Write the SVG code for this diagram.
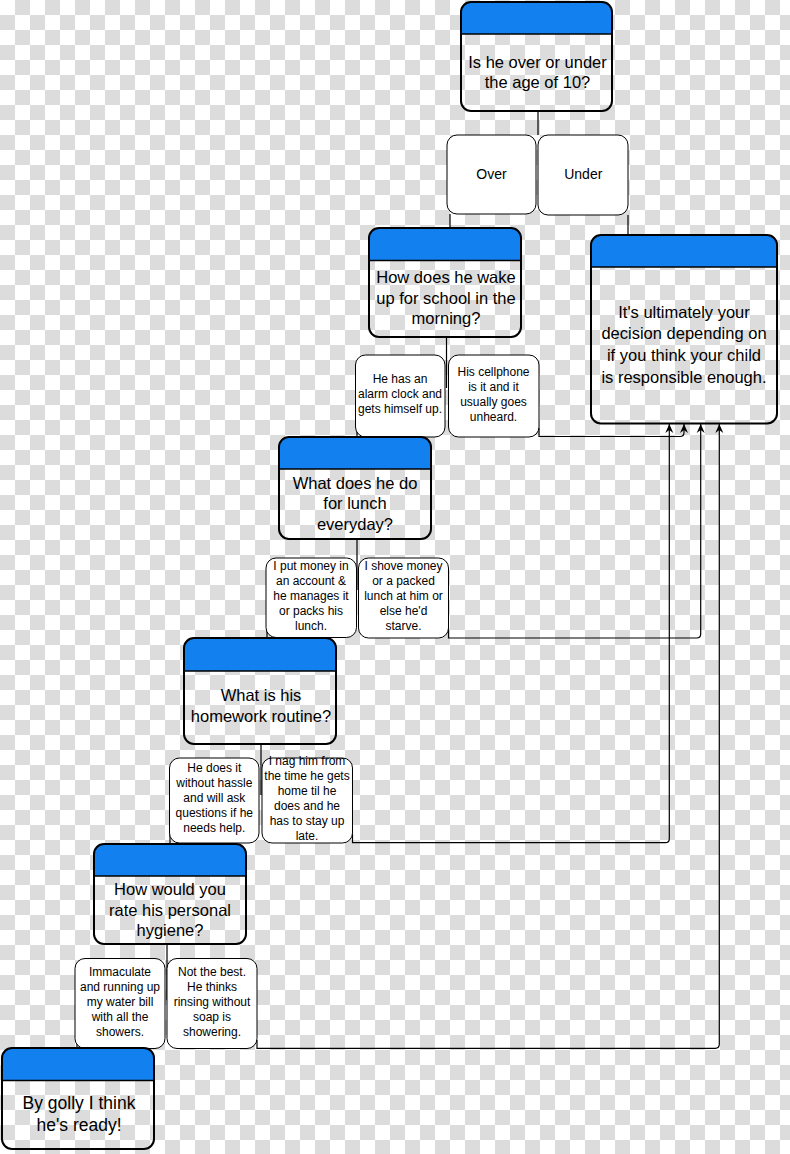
<svg xmlns="http://www.w3.org/2000/svg" width="790" height="1154" viewBox="0 0 790 1154">
<defs>
<pattern id="cb" width="30" height="30" patternUnits="userSpaceOnUse">
<rect width="30" height="30" fill="#ffffff"/>
<rect x="15" y="0" width="15" height="15" fill="#dcdcdc"/>
<rect x="0" y="15" width="15" height="15" fill="#dcdcdc"/>
</pattern>
<marker id="arr" viewBox="-10 -5 11 10" refX="0" refY="0" markerWidth="11" markerHeight="10" markerUnits="userSpaceOnUse" orient="auto">
<path d="M0,0 L-9,-4 L-6,0 L-9,4 Z" fill="#000"/>
</marker>
<style>
.hd{fill:#1380f0;stroke:none}
.sep{stroke:#000;stroke-width:1.5}
.qb{fill:none;stroke:#000;stroke-width:2}
.ab{fill:#fff;stroke:#000;stroke-width:1}
.ln{fill:none;stroke:#000;stroke-width:1.2}
.q{font-family:"Liberation Sans",Arial,Helvetica,sans-serif;font-size:16.5px;fill:#000;text-anchor:middle}
.a{font-family:"Liberation Sans",Arial,Helvetica,sans-serif;font-size:12px;fill:#000;text-anchor:middle}
.o{font-family:"Liberation Sans",Arial,Helvetica,sans-serif;font-size:14px;fill:#000;text-anchor:middle}
</style>
</defs>
<rect width="790" height="1154" fill="url(#cb)"/>

<g id="connectors">
<path class="ln" d="M538,111 V135"/>
<path class="ln" d="M450,214 V228"/>
<path class="ln" d="M628,215 V235"/>
<path class="ln" d="M446.5,337 V388"/>
<path class="ln" d="M357,428 V437"/>
<path class="ln" d="M357,539 V590"/>
<path class="ln" d="M267,628 V638"/>
<path class="ln" d="M261,744 V795"/>
<path class="ln" d="M170,834 V844"/>
<path class="ln" d="M167,944 V1000"/>
<path class="ln" d="M77,1040 V1048"/>
<path class="ln" marker-end="url(#arr)" d="M539,428 V436.5 H680 Q684,436.5 684,432.5 V424"/>
<path class="ln" marker-end="url(#arr)" d="M448.5,628 V638 H696.7 Q700.7,638 700.7,634 V424"/>
<path class="ln" marker-end="url(#arr)" d="M352.5,834 V842.7 H665.3 Q669.3,842.7 669.3,838.7 V424"/>
<path class="ln" marker-end="url(#arr)" d="M257,1040 V1048.3 H715.3 Q719.3,1048.3 719.3,1044.3 V424"/>
</g>

<g id="q-age">
<path class="hd" d="M461,34 V12 A10,10 0 0 1 471,2 H602 A10,10 0 0 1 612,12 V34 Z"/>
<line class="sep" x1="461" y1="34" x2="612" y2="34"/>
<rect class="qb" x="461" y="2" width="151" height="109" rx="10"/>
<text class="q" x="537.5" y="67.5">Is he over or under</text>
<text class="q" x="537.5" y="88">the age of 10?</text>
</g>

<g id="a-over">
<rect class="ab" x="447" y="135" width="89" height="79" rx="10"/>
<text class="o" x="491.5" y="178.5">Over</text>
</g>
<g id="a-under">
<rect class="ab" x="538" y="135" width="90" height="80" rx="10"/>
<text class="o" x="583.3" y="179.3">Under</text>
</g>

<g id="result">
<path class="hd" d="M591,267 V245 A10,10 0 0 1 601,235 H767 A10,10 0 0 1 777,245 V267 Z"/>
<line class="sep" x1="591" y1="267" x2="777" y2="267"/>
<rect class="qb" x="591" y="235" width="186" height="188.5" rx="10"/>
<text class="q" x="684" y="317.7">It's ultimately your</text>
<text class="q" x="684" y="339.3">decision depending on</text>
<text class="q" x="684" y="361">if you think your child</text>
<text class="q" x="684" y="382.7">is responsible enough.</text>
</g>

<g id="q-wake">
<path class="hd" d="M369,260.5 V238 A10,10 0 0 1 379,228 H511 A10,10 0 0 1 521,238 V260.5 Z"/>
<line class="sep" x1="369" y1="260.5" x2="521" y2="260.5"/>
<rect class="qb" x="369" y="228" width="152" height="109" rx="10"/>
<text class="q" x="446" y="282.7">How does he wake</text>
<text class="q" x="446" y="303.7">up for school in the</text>
<text class="q" x="446" y="324.3">morning?</text>
</g>

<g id="a-alarm">
<rect class="ab" x="355.5" y="355" width="89.5" height="82" rx="10"/>
<text class="a" x="400" y="382.7">He has an</text>
<text class="a" x="400" y="397.7">alarm clock and</text>
<text class="a" x="400" y="413">gets himself up.</text>
</g>
<g id="a-cellphone">
<rect class="ab" x="448.5" y="355" width="90.5" height="82" rx="10"/>
<text class="a" x="493.5" y="376">His cellphone</text>
<text class="a" x="493.5" y="391">is it and it</text>
<text class="a" x="493.5" y="406">usually goes</text>
<text class="a" x="493.5" y="421">unheard.</text>
</g>

<g id="q-lunch">
<path class="hd" d="M279,469 V447 A10,10 0 0 1 289,437 H421 A10,10 0 0 1 431,447 V469 Z"/>
<line class="sep" x1="279" y1="469" x2="431" y2="469"/>
<rect class="qb" x="279" y="437" width="152" height="102" rx="10"/>
<text class="q" x="355" y="488.5">What does he do</text>
<text class="q" x="355" y="509">for lunch</text>
<text class="q" x="355" y="530">everyday?</text>
</g>

<g id="a-account">
<rect class="ab" x="266" y="558" width="90.5" height="79.5" rx="10"/>
<text class="a" x="311" y="570.3">I put money in</text>
<text class="a" x="311" y="585.3">an account &amp;</text>
<text class="a" x="311" y="600.3">he manages it</text>
<text class="a" x="311" y="615.3">or packs his</text>
<text class="a" x="311" y="630.3">lunch.</text>
</g>
<g id="a-shove">
<rect class="ab" x="358.5" y="558" width="90" height="80" rx="10"/>
<text class="a" x="403.5" y="570.3">I shove money</text>
<text class="a" x="403.5" y="585.3">or a packed</text>
<text class="a" x="403.5" y="600.3">lunch at him or</text>
<text class="a" x="403.5" y="615.3">else he'd</text>
<text class="a" x="403.5" y="630.3">starve.</text>
</g>

<g id="q-homework">
<path class="hd" d="M184,671 V648 A10,10 0 0 1 194,638 H326 A10,10 0 0 1 336,648 V671 Z"/>
<line class="sep" x1="184" y1="671" x2="336" y2="671"/>
<rect class="qb" x="184" y="638" width="152" height="106" rx="10"/>
<text class="q" x="261" y="701">What is his</text>
<text class="q" x="261" y="722">homework routine?</text>
</g>

<g id="a-hassle">
<rect class="ab" x="169.5" y="758" width="89.5" height="85" rx="10"/>
<text class="a" x="214.3" y="771.7">He does it</text>
<text class="a" x="214.3" y="786.7">without hassle</text>
<text class="a" x="214.3" y="801.7">and will ask</text>
<text class="a" x="214.3" y="817">questions if he</text>
<text class="a" x="214.3" y="832">needs help.</text>
</g>
<g id="a-nag">
<rect class="ab" x="262" y="758" width="90.5" height="85" rx="10"/>
<text class="a" x="307" y="765.3">I nag him from</text>
<text class="a" x="307" y="780">the time he gets</text>
<text class="a" x="307" y="795">home til he</text>
<text class="a" x="307" y="810">does and he</text>
<text class="a" x="307" y="825.3">has to stay up</text>
<text class="a" x="307" y="840">late.</text>
</g>

<g id="q-hygiene">
<path class="hd" d="M94,876 V854 A10,10 0 0 1 104,844 H236 A10,10 0 0 1 246,854 V876 Z"/>
<line class="sep" x1="94" y1="876" x2="246" y2="876"/>
<rect class="qb" x="94" y="844" width="152" height="100" rx="10"/>
<text class="q" x="170" y="895">How would you</text>
<text class="q" x="170" y="915.5">rate his personal</text>
<text class="q" x="170" y="936">hygiene?</text>
</g>

<g id="a-immaculate">
<rect class="ab" x="75" y="958.5" width="90" height="90" rx="10"/>
<text class="a" x="120" y="976">Immaculate</text>
<text class="a" x="120" y="991">and running up</text>
<text class="a" x="120" y="1006">my water bill</text>
<text class="a" x="120" y="1021">with all the</text>
<text class="a" x="120" y="1036">showers.</text>
</g>
<g id="a-notbest">
<rect class="ab" x="167" y="958.5" width="90" height="90" rx="10"/>
<text class="a" x="212" y="976">Not the best.</text>
<text class="a" x="212" y="991">He thinks</text>
<text class="a" x="212" y="1006">rinsing without</text>
<text class="a" x="212" y="1021">soap is</text>
<text class="a" x="212" y="1036">showering.</text>
</g>

<g id="q-ready">
<path class="hd" d="M2,1080.5 V1058 A10,10 0 0 1 12,1048 H144 A10,10 0 0 1 154,1058 V1080.5 Z"/>
<line class="sep" x1="2" y1="1080.5" x2="154" y2="1080.5"/>
<rect class="qb" x="2" y="1048" width="152" height="101" rx="10"/>
<text class="q" style="font-size:17.5px" x="79" y="1108.5">By golly I think</text>
<text class="q" style="font-size:17.5px" x="79" y="1131">he's ready!</text>
</g>
</svg>
